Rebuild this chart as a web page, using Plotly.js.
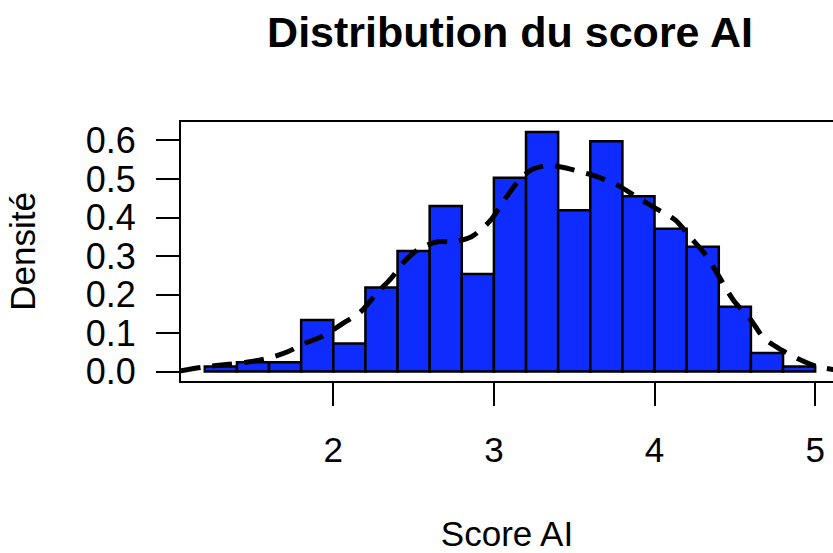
<!DOCTYPE html>
<html>
<head>
<meta charset="utf-8">
<script src="https://cdn.plot.ly/plotly-3.0.1.min.js"></script>
<style>html,body{margin:0;padding:0;background:#fff;overflow:hidden}</style>
</head>
<body>
<div id="chart" style="width:833px;height:553px"></div>
<script>
// Histogram bins (left edges, width 0.2) and densities
var binLeft = [1.2, 1.4, 1.6, 1.8, 2.0, 2.2, 2.4, 2.6, 2.8, 3.0, 3.2, 3.4, 3.6, 3.8, 4.0, 4.2, 4.4, 4.6, 4.8];
var binDensity = [0.013, 0.024, 0.024, 0.134, 0.073, 0.218, 0.313, 0.430, 0.253, 0.503, 0.622, 0.419, 0.598, 0.455, 0.371, 0.324, 0.168, 0.048, 0.013];
var binWidth = 0.2;

// Kernel density estimate (dashed curve)
var kdeX = [1.05, 1.20, 1.35, 1.46, 1.60, 1.72, 1.82, 1.93, 2.06, 2.17, 2.27, 2.36, 2.45, 2.54, 2.65, 2.74, 2.86, 2.98, 3.05, 3.14, 3.23, 3.33, 3.42, 3.50, 3.65, 3.77, 3.89, 4.01, 4.13, 4.22, 4.31, 4.39, 4.49, 4.60, 4.68, 4.79, 4.91, 5.01, 5.15];
var kdeY = [0.002, 0.012, 0.019, 0.024, 0.035, 0.052, 0.073, 0.091, 0.125, 0.155, 0.203, 0.242, 0.289, 0.320, 0.337, 0.337, 0.350, 0.393, 0.436, 0.488, 0.523, 0.535, 0.531, 0.523, 0.505, 0.484, 0.453, 0.423, 0.393, 0.350, 0.307, 0.255, 0.186, 0.134, 0.087, 0.056, 0.030, 0.013, 0.003];

var xTicks = [2, 3, 4, 5];
var yTicks = [0.0, 0.1, 0.2, 0.3, 0.4, 0.5, 0.6];

var FONT = "Liberation Sans, Arial, Helvetica, sans-serif";

var traces = [
  {
    type: "bar",
    x: binLeft,
    y: binDensity,
    width: binWidth,
    offset: 0,
    marker: {color: "#0f2cff", line: {color: "#000000", width: 2.5}},
    hoverinfo: "x+y",
    showlegend: false
  },
  {
    type: "scatter",
    mode: "lines",
    x: kdeX,
    y: kdeY,
    line: {color: "#000000", width: 5, dash: "20px,12px", shape: "spline", smoothing: 0.8},
    showlegend: false,
    cliponaxis: true
  }
];

var layout = {
  width: 833,
  height: 553,
  margin: {l: 181, r: 0, t: 122, b: 172, pad: 0},
  paper_bgcolor: "#ffffff",
  plot_bgcolor: "#ffffff",
  font: {family: FONT, size: 35, color: "#000000"},
  bargap: 0,
  title: {
    text: "<b>Distribution du score AI</b>",
    font: {family: FONT, size: 43, color: "#000000"},
    xref: "container", x: 510 / 833, xanchor: "center",
    yref: "container", y: 1 - 32 / 553, yanchor: "middle"
  },
  xaxis: {
    range: [1.052, 5.111],
    tickmode: "array",
    tickvals: xTicks,
    ticktext: xTicks.map(String),
    ticks: "outside",
    ticklen: 23,
    tickwidth: 2,
    tickcolor: "#000000",
    ticklabelstandoff: 14,
    showline: true,
    mirror: true,
    linecolor: "#000000",
    linewidth: 2,
    showgrid: false,
    zeroline: false,
    tickfont: {family: FONT, size: 35},
    title: {text: "Score AI", font: {family: FONT, size: 35}, standoff: 66}
  },
  yaxis: {
    range: [-0.0246, 0.648],
    tickmode: "array",
    tickvals: yTicks,
    ticktext: yTicks.map(function (v) { return v.toFixed(1); }),
    ticks: "outside",
    ticklen: 23,
    tickwidth: 2,
    tickcolor: "#000000",
    ticklabelstandoff: 13,
    showline: true,
    mirror: false,
    linecolor: "#000000",
    linewidth: 2,
    showgrid: false,
    zeroline: false,
    tickfont: {family: FONT, size: 36},
    title: {text: "Densité", font: {family: FONT, size: 35}, standoff: 40}
  }
};

Plotly.newPlot("chart", traces, layout, {displayModeBar: false, staticPlot: true});
</script>
</body>
</html>
